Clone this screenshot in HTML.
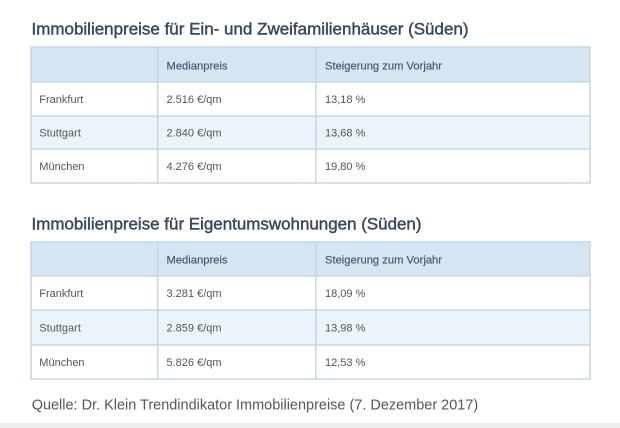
<!DOCTYPE html>
<html><head><meta charset="utf-8">
<style>
html,body{margin:0;padding:0;background:#fff;}
svg{display:block;}
.t{font-family:"Liberation Sans",sans-serif;font-size:17px;fill:#3b4859;stroke:#3b4859;stroke-width:0.45px;}
.h{font-family:"Liberation Sans",sans-serif;font-size:11px;fill:#4a5a76;stroke:#4a5a76;stroke-width:0.2px;}
.b{font-family:"Liberation Sans",sans-serif;font-size:11px;fill:#555;}
.f{font-family:"Liberation Sans",sans-serif;font-size:15px;fill:#555;}
</style></head>
<body>
<svg width="620" height="428" viewBox="0 0 620 428" xmlns="http://www.w3.org/2000/svg">
<rect width="620" height="428" fill="#fff"/>

<text class="t" x="31.5" y="34.3" textLength="437" lengthAdjust="spacingAndGlyphs">Immobilienpreise für Ein- und Zweifamilienhäuser (Süden)</text>

<!-- Table 1 -->
<rect x="31" y="47" width="559" height="35" fill="#d5e5f2"/>
<rect x="31" y="116" width="559" height="33" fill="#ecf4fb"/>
<g stroke="#c6d6e6" stroke-width="1.5" fill="none">
<rect x="31" y="47" width="559" height="136"/>
<line x1="31" y1="82" x2="590" y2="82"/>
<line x1="31" y1="116" x2="590" y2="116"/>
<line x1="31" y1="149" x2="590" y2="149"/>
<line x1="157.7" y1="47" x2="157.7" y2="183"/>
<line x1="315.8" y1="47" x2="315.8" y2="183"/>
</g>
<text class="h" x="166.5" y="69.3" textLength="61" lengthAdjust="spacingAndGlyphs">Medianpreis</text>
<text class="h" x="325" y="69.3" textLength="117" lengthAdjust="spacingAndGlyphs">Steigerung zum Vorjahr</text>
<text class="b" x="39.3" y="103">Frankfurt</text>
<text class="b" x="166.5" y="103">2.516 €/qm</text>
<text class="b" x="325" y="103">13,18 %</text>
<text class="b" x="39.3" y="136.5">Stuttgart</text>
<text class="b" x="166.5" y="136.5">2.840 €/qm</text>
<text class="b" x="325" y="136.5">13,68 %</text>
<text class="b" x="39.3" y="170">München</text>
<text class="b" x="166.5" y="170">4.276 €/qm</text>
<text class="b" x="325" y="170">19,80 %</text>

<text class="t" x="31.5" y="229.3" textLength="390" lengthAdjust="spacingAndGlyphs">Immobilienpreise für Eigentumswohnungen (Süden)</text>

<!-- Table 2 -->
<rect x="31" y="242" width="559" height="34" fill="#d5e5f2"/>
<rect x="31" y="310" width="559" height="35" fill="#ecf4fb"/>
<g stroke="#c6d6e6" stroke-width="1.5" fill="none">
<rect x="31" y="242" width="559" height="137"/>
<line x1="31" y1="276" x2="590" y2="276"/>
<line x1="31" y1="310" x2="590" y2="310"/>
<line x1="31" y1="345" x2="590" y2="345"/>
<line x1="157.7" y1="242" x2="157.7" y2="379"/>
<line x1="315.8" y1="242" x2="315.8" y2="379"/>
</g>
<text class="h" x="166.5" y="263.5" textLength="61" lengthAdjust="spacingAndGlyphs">Medianpreis</text>
<text class="h" x="325" y="263.5" textLength="117" lengthAdjust="spacingAndGlyphs">Steigerung zum Vorjahr</text>
<text class="b" x="39.3" y="297">Frankfurt</text>
<text class="b" x="166.5" y="297">3.281 €/qm</text>
<text class="b" x="325" y="297">18,09 %</text>
<text class="b" x="39.3" y="331.5">Stuttgart</text>
<text class="b" x="166.5" y="331.5">2.859 €/qm</text>
<text class="b" x="325" y="331.5">13,98 %</text>
<text class="b" x="39.3" y="366">München</text>
<text class="b" x="166.5" y="366">5.826 €/qm</text>
<text class="b" x="325" y="366">12,53 %</text>

<text class="f" x="31.7" y="409.3" textLength="446.5" lengthAdjust="spacingAndGlyphs">Quelle: Dr. Klein Trendindikator Immobilienpreise (7. Dezember 2017)</text>

<rect x="0" y="423" width="620" height="5" fill="#efefef"/>
</svg>
</body></html>
